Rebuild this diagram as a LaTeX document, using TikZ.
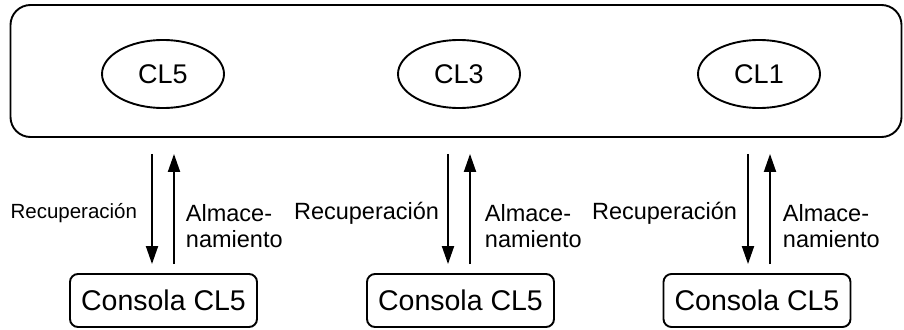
\documentclass[tikz,border=0pt]{standalone}
\usepackage{fontspec}
\setmainfont{Liberation Sans}
\usetikzlibrary{arrows.meta,shapes.geometric}
\begin{document}
\begin{tikzpicture}[x=1pt,y=-1pt,
  line width=1.9pt,
  frame/.style={draw,rounded corners=20pt,minimum width=891pt,minimum height=132pt,inner sep=0pt},
  cl/.style={draw,ellipse,minimum width=122pt,minimum height=68pt,inner sep=0pt,font=\fontsize{27}{30}\selectfont},
  console/.style={draw,rounded corners=8pt,minimum width=187pt,minimum height=53pt,inner sep=0pt,font=\fontsize{28.5}{32}\selectfont},
  lbl/.style={inner sep=0pt,font=\fontsize{23.5}{26}\selectfont,align=left},
  arr/.style={-{Triangle[length=18pt,width=12pt]},line width=1.9pt}]
\useasboundingbox (0,0) rectangle (904,329);
\node[frame] (top) at (456,71) {};
\node[cl] (e5) at (163,74) {CL5};
\node[cl] (e3) at (459,74) {CL3};
\node[cl] (e1) at (759,74) {CL1};
\node[console] (c5) at (163.5,300.5) {Consola CL5};
\node[console] (c3) at (460.5,300.5) {Consola CL5};
\node[console] (c1) at (757,300.5) {Consola CL5};
\foreach \e/\c in {e5/c5,e3/c3,e1/c1}{
  \coordinate (t\e) at (\e.center |- top.south);
  \coordinate (b\e) at (\e.center |- \c.north);
  \draw[arr] ([xshift=-11pt,yshift=-16pt]t\e) -- ([xshift=-11pt,yshift=9pt]b\e);
  \draw[arr] ([xshift=11pt,yshift=9pt]b\e) -- ([xshift=11pt,yshift=-16pt]t\e);
}
\node[lbl,anchor=east,font=\fontsize{20.5}{24}\selectfont] (r5) at (138,213) {Recuperación};
\node[lbl,anchor=east] (r3) at (440,213) {Recuperación};
\node[lbl,anchor=east] (r1) at (738,213) {Recuperación};
\node[lbl,anchor=west] (a5) at (185,226) {Almace-\\namiento};
\node[lbl,anchor=west] (a3) at (484,226) {Almace-\\namiento};
\node[lbl,anchor=west] (a1) at (782,226) {Almace-\\namiento};
\end{tikzpicture}
\end{document}
